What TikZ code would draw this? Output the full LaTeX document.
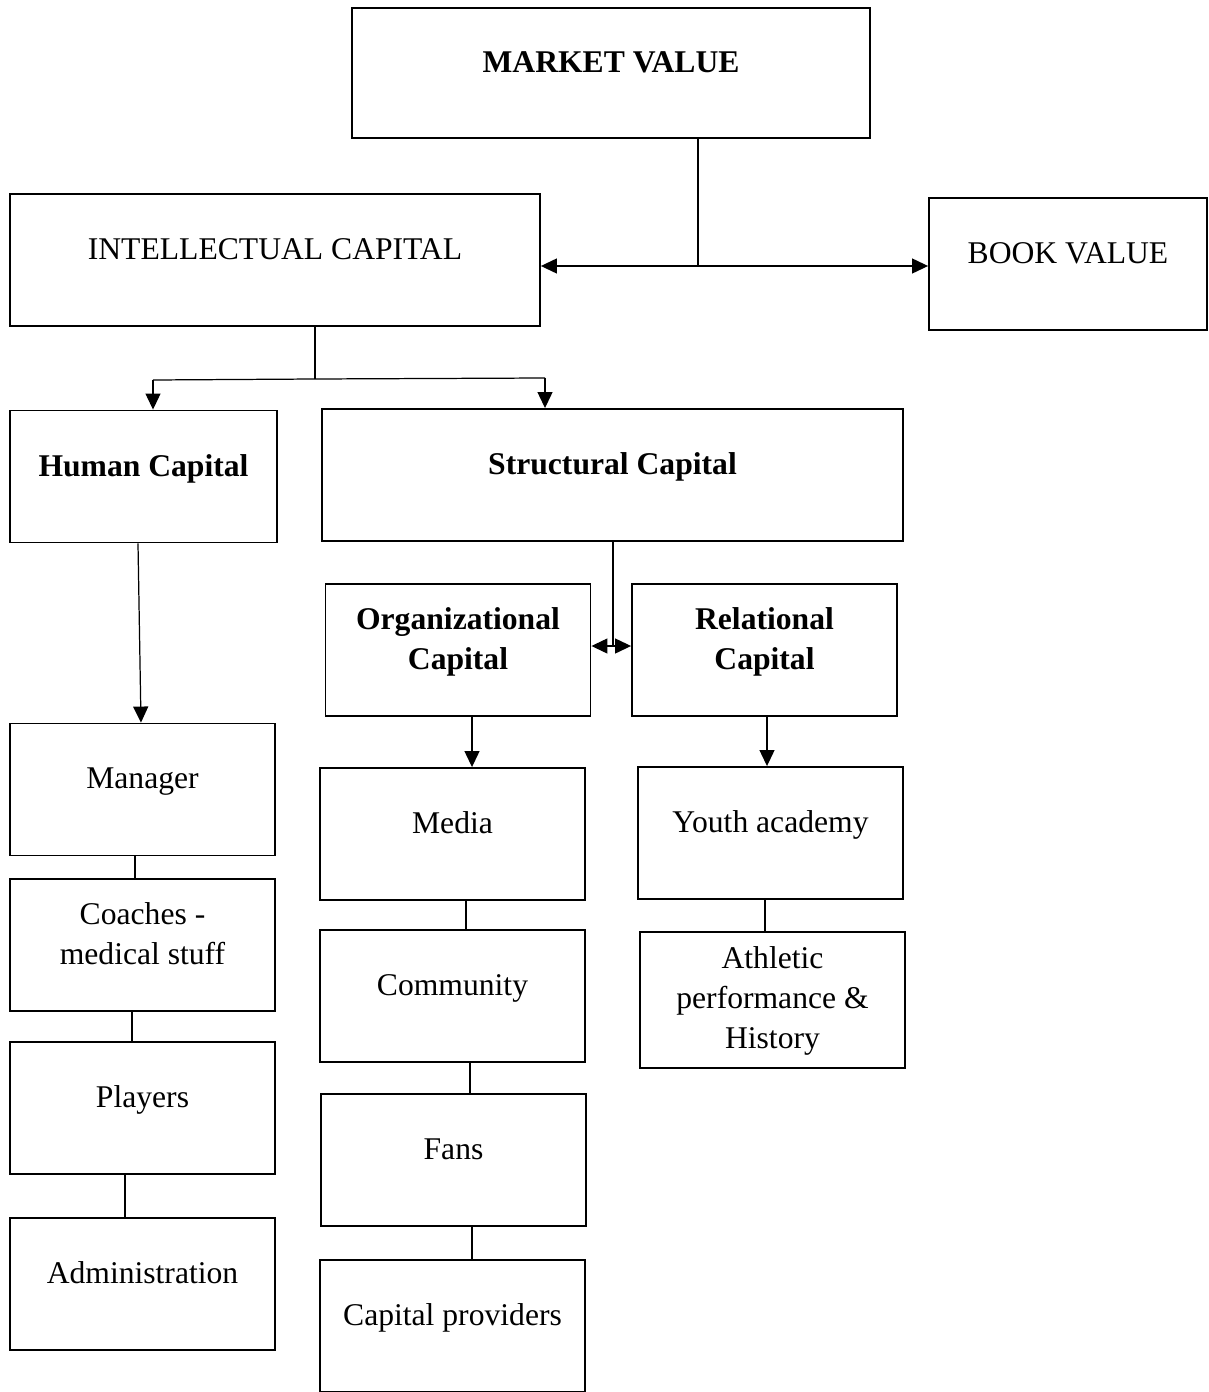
\documentclass[tikz,border=0pt]{standalone}
\usepackage{fontspec}
\setmainfont{Liberation Serif}
\usepackage{tikz}
\usetikzlibrary{arrows.meta, positioning}
\tikzset{box/.style={draw, line width=1.1pt, minimum width=5.3cm, minimum height=2.64cm, align=center, inner sep=0.1cm, text depth=0.45cm}}
\begin{document}
\begin{tikzpicture}[x=0.02cm, y=-0.02cm, >={Triangle[length=0.32cm, width=0.3cm]}, every path/.style={line width=0.7pt}, every node/.style={font=\fontsize{18}{22.7}\selectfont}]
\useasboundingbox (0,0) rectangle (1208,1392);
\node[box, minimum width=10.36cm, minimum height=2.6cm] (mv) at (611,73) {\textbf{MARKET VALUE}};
\node[box, minimum width=10.6cm] (ic) at (275,260) {INTELLECTUAL CAPITAL};
\node[box, minimum width=5.56cm] (bv) at (1068,264) {BOOK VALUE};
\node[box, minimum width=5.34cm] (hc) at (143.5,476.5) {\textbf{Human Capital}};
\node[box, minimum width=11.62cm] (sc) at (612.5,475) {\textbf{Structural Capital}};
\node[box] (oc) at (458,650) {\textbf{Organizational}\\\textbf{Capital}};
\node[box] (rc) at (764.5,650) {\textbf{Relational}\\\textbf{Capital}};
\node[box] (man) at (142.5,789.5) {Manager};
\node[box] (coa) at (142.5,945) {Coaches -\\medical stuff};
\node[box] (pla) at (142.5,1108) {Players};
\node[box] (adm) at (142.5,1284) {Administration};
\node[box] (med) at (452.5,834) {Media};
\node[box] (com) at (452.5,996) {Community};
\node[box] (fan) at (453.5,1160) {Fans};
\node[box] (cap) at (452.5,1326) {Capital providers};
\node[box] (you) at (770.5,833) {Youth academy};
\node[box, minimum height=2.72cm, text depth=0.1cm] (ath) at (772.5,1000) {Athletic\\performance \&\\History};
% market value to intellectual capital and book value
\coordinate (mvj) at (698,266);
\draw (mvj |- mv.south) -- (mvj);
\draw [<->] (ic.east |- mvj) -- (bv.west |- mvj);
% intellectual capital to human and structural capital
\coordinate (icj) at (315,379);
\coordinate (hcj) at (153,380);
\coordinate (scj) at (545,378);
\draw (icj |- ic.south) -- (icj);
\draw (hcj) -- (icj) -- (scj);
\draw [->] (hcj) -- (hcj |- hc.north);
\draw [->] (scj) -- (scj |- sc.north);
% structural capital to organizational and relational capital
\coordinate (scd) at (613,646);
\draw (scd |- sc.south) -- (scd);
\draw [<->] (oc.east |- scd) -- (rc.west |- scd);
% human capital column
\draw [->] (hc.south -| 138,0) -- (man.north -| 141,0);
\draw (man.south -| 135,0) -- (coa.north -| 135,0);
\draw (coa.south -| 132,0) -- (pla.north -| 132,0);
\draw (pla.south -| 125,0) -- (adm.north -| 125,0);
% organizational capital column
\draw [->] (oc.south -| 472,0) -- (med.north -| 472,0);
\draw (med.south -| 466,0) -- (com.north -| 466,0);
\draw (com.south -| 470,0) -- (fan.north -| 470,0);
\draw (fan.south -| 472,0) -- (cap.north -| 472,0);
% relational capital column
\draw [->] (rc.south -| 767,0) -- (you.north -| 767,0);
\draw (you.south -| 765,0) -- (ath.north -| 765,0);
\end{tikzpicture}
\end{document}
